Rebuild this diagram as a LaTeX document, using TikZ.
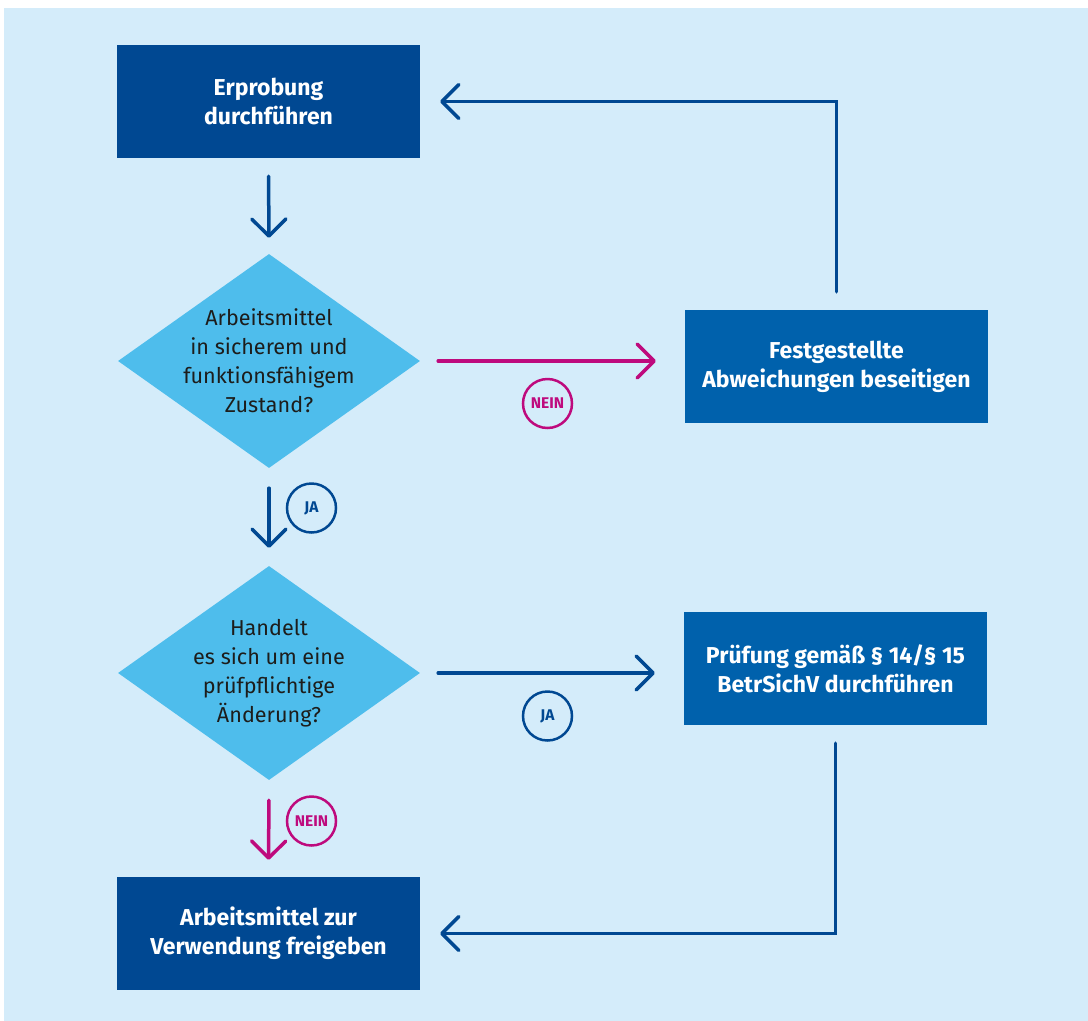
\documentclass[tikz,border=0pt]{standalone}
\usepackage{fontspec}
\setmainfont{Fira Sans}
\usetikzlibrary{shapes.geometric,arrows.meta}
\definecolor{bgblue}{RGB}{212,236,250}
\definecolor{darkblue}{RGB}{0,72,146}
\definecolor{midblue}{RGB}{0,97,172}
\definecolor{diamblue}{RGB}{78,189,236}
\definecolor{magentac}{RGB}{190,10,125}
\definecolor{textdark}{RGB}{29,29,27}
\begin{document}
\begin{tikzpicture}[x=1pt,y=-1pt,
  boxbase/.style={rectangle, inner sep=0pt, minimum width=303pt, minimum height=113pt,
    align=center, text=white, font=\fontsize{23}{29}\selectfont\bfseries},
  darkbox/.style={boxbase, fill=darkblue},
  midbox/.style={boxbase, fill=midblue},
  diam/.style={diamond, fill=diamblue, inner sep=0pt, minimum width=302pt, minimum height=214pt,
    label={[align=center, text=textdark, font=\fontsize{21.6}{29}\selectfont]center:#1}},
  conn/.style={line width=3.5pt, line cap=round, line join=miter, darkblue,
    -{Straight Barb[length=17pt, width=34pt, round]}},
  connm/.style={conn, magentac},
  circ/.style={circle, draw, line width=2.5pt, minimum size=49pt, inner sep=0pt,
    font=\fontsize{15.5}{17}\selectfont\bfseries},
]
\useasboundingbox (0,0) rectangle (1088,1021);
\fill[white] (0,0) rectangle (1088,1021);
\fill[bgblue] (4,8) rectangle (1088,1021);

\node[darkbox] (erprobung) at (268.5,101.5) {Erprobung\\durchführen};
\node[diam={Arbeitsmittel\\in sicherem und\\funktionsfähigem\\Zustand?}] (d1) at (269,361) {};
\node[midbox] (fest) at (836.5,366.5) {Festgestellte\\Abweichungen beseitigen};
\node[diam={Handelt\\es sich um eine\\prüfpflichtige\\Änderung?}] (d2) at (269,673) {};
\node[midbox] (pruef) at (835.5,668.5) {Prüfung gemäß § 14/§ 15\\BetrSichV durchführen};
\node[darkbox] (frei) at (268.5,933.5) {Arbeitsmittel zur\\Verwendung freigeben};

\draw[conn, shorten <=18pt, shorten >=16pt] (erprobung.south) -- (d1.north);
\draw[connm, shorten <=18pt, shorten >=29pt] (d1.east) -- (d1.east -| fest.west);
\draw[conn, shorten <=18pt, shorten >=20pt] (fest.north) |- (erprobung.east);
\draw[conn, shorten <=20pt, shorten >=18pt] (d1.south) -- (d2.north);
\draw[conn, shorten <=18pt, shorten >=29pt] (d2.east) -- (d2.east -| pruef.west);
\draw[connm, shorten <=20pt, shorten >=17pt] (d2.south) -- (frei.north);
\draw[conn, shorten <=18pt, shorten >=20pt] (pruef.south) |- (frei.east);

\node[circ, magentac] (nein1) at (547.5,403.5) {NEIN};
\node[circ, darkblue] (ja1) at (311.5,508) {JA};
\node[circ, darkblue] (ja2) at (547.5,716) {JA};
\node[circ, magentac] (nein2) at (311.5,821) {NEIN};
\end{tikzpicture}
\end{document}
